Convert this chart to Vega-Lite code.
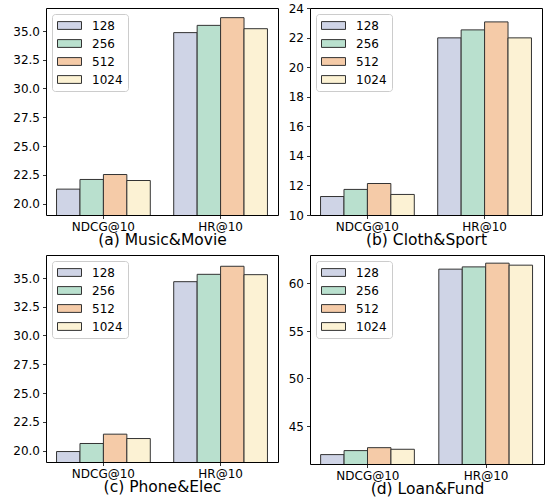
{
  "$schema": "https://vega.github.io/schema/vega-lite/v6.json",
  "padding": {"left": 12, "top": 1, "right": 5, "bottom": 5},
  "bounds": "flush",
  "align": "each",
  "columns": 2,
  "spacing": {"row": 40, "column": 32},
  "config": {
    "font": "DejaVu Sans",
    "view": {"stroke": "#000000", "strokeWidth": 1},
    "axis": {"grid": false, "domain": false, "tickColor": "#000000", "tickSize": 3.5, "tickWidth": 0.8, "labelColor": "#000000", "labelFontSize": 12, "labelPadding": 3},
    "axisX": {"labelAngle": 0, "titleFontSize": 15.5, "titleFontWeight": "normal", "titleColor": "#000000", "titlePadding": 0},
    "legend": {"orient": "top-left", "offset": 6, "padding": 5, "fillColor": "#ffffff", "strokeColor": "#cccccc", "cornerRadius": 3, "labelFontSize": 12, "labelColor": "#000000", "symbolType": "M-1,-0.65H3V0.65H-1Z", "symbolSize": 144, "labelOffset": 22, "rowPadding": 5, "symbolStrokeColor": "#333333", "symbolStrokeWidth": 1, "symbolOpacity": 1, "title": null}
  },
  "datasets": {
    "a": [
      {"metric": "NDCG@10", "dim": "128", "value": 21.25}, {"metric": "NDCG@10", "dim": "256", "value": 22.09}, {"metric": "NDCG@10", "dim": "512", "value": 22.52}, {"metric": "NDCG@10", "dim": "1024", "value": 22.0},
      {"metric": "HR@10", "dim": "128", "value": 34.86}, {"metric": "HR@10", "dim": "256", "value": 35.49}, {"metric": "HR@10", "dim": "512", "value": 36.16}, {"metric": "HR@10", "dim": "1024", "value": 35.2}
    ],
    "b": [
      {"metric": "NDCG@10", "dim": "128", "value": 11.25}, {"metric": "NDCG@10", "dim": "256", "value": 11.73}, {"metric": "NDCG@10", "dim": "512", "value": 12.13}, {"metric": "NDCG@10", "dim": "1024", "value": 11.39},
      {"metric": "HR@10", "dim": "128", "value": 21.98}, {"metric": "HR@10", "dim": "256", "value": 22.52}, {"metric": "HR@10", "dim": "512", "value": 23.06}, {"metric": "HR@10", "dim": "1024", "value": 21.98}
    ],
    "c": [
      {"metric": "NDCG@10", "dim": "128", "value": 19.91}, {"metric": "NDCG@10", "dim": "256", "value": 20.61}, {"metric": "NDCG@10", "dim": "512", "value": 21.42}, {"metric": "NDCG@10", "dim": "1024", "value": 21.04},
      {"metric": "HR@10", "dim": "128", "value": 34.68}, {"metric": "HR@10", "dim": "256", "value": 35.32}, {"metric": "HR@10", "dim": "512", "value": 36.02}, {"metric": "HR@10", "dim": "1024", "value": 35.29}
    ],
    "d": [
      {"metric": "NDCG@10", "dim": "128", "value": 41.99}, {"metric": "NDCG@10", "dim": "256", "value": 42.41}, {"metric": "NDCG@10", "dim": "512", "value": 42.72}, {"metric": "NDCG@10", "dim": "1024", "value": 42.55},
      {"metric": "HR@10", "dim": "128", "value": 61.51}, {"metric": "HR@10", "dim": "256", "value": 61.75}, {"metric": "HR@10", "dim": "512", "value": 62.14}, {"metric": "HR@10", "dim": "1024", "value": 61.93}
    ]
  },
  "resolve": {"scale": {"y": "independent", "x": "independent"}, "legend": {"color": "independent"}},
  "concat": [
    {
      "width": 232, "height": 207,
      "data": {"name": "a"},
      "mark": {"type": "bar", "stroke": "#333333", "strokeWidth": 1, "clip": true},
      "encoding": {
        "x": {"field": "metric", "type": "nominal", "scale": {"domain": ["NDCG@10", "HR@10"], "paddingInner": 0.2, "paddingOuter": 0.09}, "axis": {"title": "(a) Music&Movie"}},
        "xOffset": {"field": "dim", "type": "nominal", "scale": {"domain": ["128", "256", "512", "1024"], "paddingInner": 0, "paddingOuter": 0}},
        "y": {"field": "value", "type": "quantitative", "scale": {"domain": [19, 37], "nice": false, "zero": false}, "axis": {"title": null, "values": [20, 22.5, 25, 27.5, 30, 32.5, 35], "format": ".1f"}},
        "color": {"field": "dim", "type": "nominal", "scale": {"domain": ["128", "256", "512", "1024"], "range": ["#cfd4e6", "#b9e0ce", "#f5cba8", "#fcf2d4"]}}
      }
    },
    {
      "width": 232, "height": 207,
      "data": {"name": "b"},
      "mark": {"type": "bar", "stroke": "#333333", "strokeWidth": 1, "clip": true},
      "encoding": {
        "x": {"field": "metric", "type": "nominal", "scale": {"domain": ["NDCG@10", "HR@10"], "paddingInner": 0.2, "paddingOuter": 0.09}, "axis": {"title": "(b) Cloth&Sport"}},
        "xOffset": {"field": "dim", "type": "nominal", "scale": {"domain": ["128", "256", "512", "1024"], "paddingInner": 0, "paddingOuter": 0}},
        "y": {"field": "value", "type": "quantitative", "scale": {"domain": [10, 24], "nice": false, "zero": false}, "axis": {"title": null, "values": [10, 12, 14, 16, 18, 20, 22, 24], "format": "d"}},
        "color": {"field": "dim", "type": "nominal", "scale": {"domain": ["128", "256", "512", "1024"], "range": ["#cfd4e6", "#b9e0ce", "#f5cba8", "#fcf2d4"]}}
      }
    },
    {
      "width": 232, "height": 207,
      "data": {"name": "c"},
      "mark": {"type": "bar", "stroke": "#333333", "strokeWidth": 1, "clip": true},
      "encoding": {
        "x": {"field": "metric", "type": "nominal", "scale": {"domain": ["NDCG@10", "HR@10"], "paddingInner": 0.2, "paddingOuter": 0.09}, "axis": {"title": "(c) Phone&Elec"}},
        "xOffset": {"field": "dim", "type": "nominal", "scale": {"domain": ["128", "256", "512", "1024"], "paddingInner": 0, "paddingOuter": 0}},
        "y": {"field": "value", "type": "quantitative", "scale": {"domain": [19, 37], "nice": false, "zero": false}, "axis": {"title": null, "values": [20, 22.5, 25, 27.5, 30, 32.5, 35], "format": ".1f"}},
        "color": {"field": "dim", "type": "nominal", "scale": {"domain": ["128", "256", "512", "1024"], "range": ["#cfd4e6", "#b9e0ce", "#f5cba8", "#fcf2d4"]}}
      }
    },
    {
      "width": 234, "height": 209,
      "data": {"name": "d"},
      "mark": {"type": "bar", "stroke": "#333333", "strokeWidth": 1, "clip": true},
      "encoding": {
        "x": {"field": "metric", "type": "nominal", "scale": {"domain": ["NDCG@10", "HR@10"], "paddingInner": 0.2, "paddingOuter": 0.09}, "axis": {"title": "(d) Loan&Fund"}},
        "xOffset": {"field": "dim", "type": "nominal", "scale": {"domain": ["128", "256", "512", "1024"], "paddingInner": 0, "paddingOuter": 0}},
        "y": {"field": "value", "type": "quantitative", "scale": {"domain": [41, 63], "nice": false, "zero": false}, "axis": {"title": null, "values": [45, 50, 55, 60], "format": "d"}},
        "color": {"field": "dim", "type": "nominal", "scale": {"domain": ["128", "256", "512", "1024"], "range": ["#cfd4e6", "#b9e0ce", "#f5cba8", "#fcf2d4"]}}
      }
    }
  ]
}
